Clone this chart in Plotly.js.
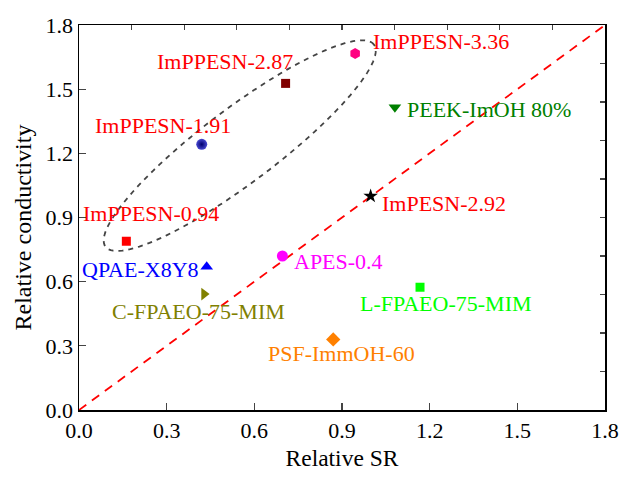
<!DOCTYPE html>
<html><head><meta charset="utf-8">
<script src="https://cdn.plot.ly/plotly-3.0.1.min.js"></script>
<style>html,body{margin:0;padding:0;background:#fff}</style>
</head><body>
<div id="chart" style="width:621px;height:477px"></div>
<script>
// Data (Relative SR, Relative conductivity)
const names = ["ImPPESN-0.94","ImPPESN-1.91","ImPPESN-2.87","ImPPESN-3.36","ImPESN-2.92","PEEK-ImOH 80%","QPAE-X8Y8","C-FPAEO-75-MIM","APES-0.4","PSF-ImmOH-60","L-FPAEO-75-MIM"];
const relSR = [0.162,0.420,0.707,0.945,0.998,1.081,0.437,0.428,0.696,0.870,1.167];
const relCond = [0.789,1.242,1.527,1.667,1.000,1.415,0.670,0.542,0.720,0.330,0.574];
const markerColors = ["#FF0000","#000080","#800000","#FF0080","#000000","#008000","#0000FF","#808000","#FF00FF","#FF8000","#00FF00"];
const markerSymbols = ["square","circle","square","hexagon","star","triangle-down","triangle-up","triangle-right","circle","diamond","square"];
const markerSizes = [9,11,9,11,11,11,11,11,11,11,9];
const labelColors = ["#FF0000","#FF0000","#FF0000","#FF0000","#FF0000","#008000","#0000FF","#808000","#FF00FF","#FF8000","#00FF00"];
const labelX = [0.248,0.287,0.500,0.999,1.248,1.402,0.209,0.408,0.887,0.899,1.256];
const labelY = [0.920,1.332,1.628,1.722,0.966,1.403,0.658,0.460,0.693,0.262,0.496];
const labelAnchor = ["center","center","center","left","center","center","center","center","center","center","center"];
const xTicks = [0.0,0.3,0.6,0.9,1.2,1.5,1.8];
const yTicks = [0.0,0.3,0.6,0.9,1.2,1.5,1.8];
const parity = [0,1.8];
const xTitle = "Relative SR";
const yTitle = "Relative conductivity";

// Ellipse enclosing the ImPPESN series (center, semi-axes in x units, angle deg)
const ell = {cx:0.550, cy:1.236, a:0.575, b:0.127, angle:37};
const pxPerX = 292.2, pxPerY = 213.9;
function ellipsePath(e){
  const th = e.angle*Math.PI/180; const pts=[];
  for(let i=0;i<=120;i++){
    const t = 2*Math.PI*i/120;
    const u = e.a*Math.cos(t), v = e.b*Math.sin(t);
    const dxp = (u*Math.cos(th) - v*Math.sin(th))*pxPerX;
    const dyp = (u*Math.sin(th) + v*Math.cos(th))*pxPerX;
    pts.push([e.cx + dxp/pxPerX, e.cy + dyp/pxPerY]);
  }
  return 'M' + pts.map(p=>p[0].toFixed(4)+','+p[1].toFixed(4)).join(' L') + ' Z';
}

const font = "Liberation Serif, Times New Roman, serif";
const traces = [{
  x: parity, y: parity, mode:'lines', line:{color:'#FF0000', dash:'9px,7px', width:1.8},
  hoverinfo:'skip', showlegend:false
}];
names.forEach((n,i)=>{
  const m = {color:markerColors[i], symbol:markerSymbols[i], size:markerSizes[i], line:{width:0}};
  if(n==="ImPPESN-1.91"){ m.gradient={type:'radial', color:'#00006e'}; m.color='#4848d0'; }
  traces.push({x:[relSR[i]], y:[relCond[i]], mode:'markers', name:n, marker:m, showlegend:false});
});
traces.push({x:[0],y:[0],xaxis:'x2',yaxis:'y2',mode:'markers',marker:{opacity:0},hoverinfo:'skip',showlegend:false});

const annotations = names.map((n,i)=>({
  x:labelX[i], y:labelY[i], xref:'x', yref:'y', text:n, showarrow:false,
  xanchor:labelAnchor[i], yanchor:'middle', font:{family:font, size:22, color:labelColors[i]}
}));
annotations.push({x:-0.1065, y:0.474, xref:'paper', yref:'paper', text:yTitle, textangle:-90, showarrow:false,
  xanchor:'center', yanchor:'middle', font:{family:font, size:24, color:'#000'}});

const layout = {
  width:621, height:477,
  margin:{l:79, r:16, t:25, b:67},
  paper_bgcolor:'#fff', plot_bgcolor:'#fff',
  font:{family:font, size:22, color:'#000'},
  xaxis:{range:[0,1.8], tickvals:xTicks, ticktext:xTicks.map(v=>v.toFixed(1)), ticks:'inside', ticklen:7, tickwidth:1.2,
    tickfont:{family:font,size:22},
    showline:true, linewidth:1.5, linecolor:'#000', mirror:true, showgrid:false, zeroline:false,
    title:{text:xTitle, font:{family:font,size:23.5}, standoff:7}},
  yaxis:{range:[0,1.8], tickvals:yTicks, ticktext:yTicks.map(v=>v.toFixed(1)), ticks:'inside', ticklen:7, tickwidth:1.2,
    tickfont:{family:font,size:22},
    showline:true, linewidth:1.5, linecolor:'#000', mirror:true, showgrid:false, zeroline:false},
  xaxis2:{overlaying:'x', side:'top', range:[0,1.8], dtick:0.18, tick0:0, ticks:'inside', ticklen:5, tickwidth:1.2,
    showticklabels:false, showgrid:false, zeroline:false, showline:false},
  yaxis2:{overlaying:'y', side:'right', range:[0,1.8], dtick:0.18, tick0:0, ticks:'inside', ticklen:5, tickwidth:1.2,
    showticklabels:false, showgrid:false, zeroline:false, showline:false},
  shapes:[{type:'path', xref:'x', yref:'y', path:ellipsePath(ell), line:{color:'#444', width:1.8, dash:'5px,5px'}}],
  annotations:annotations,
  showlegend:false
};
Plotly.newPlot('chart', traces, layout, {displayModeBar:false, staticPlot:true});
</script>
</body></html>
